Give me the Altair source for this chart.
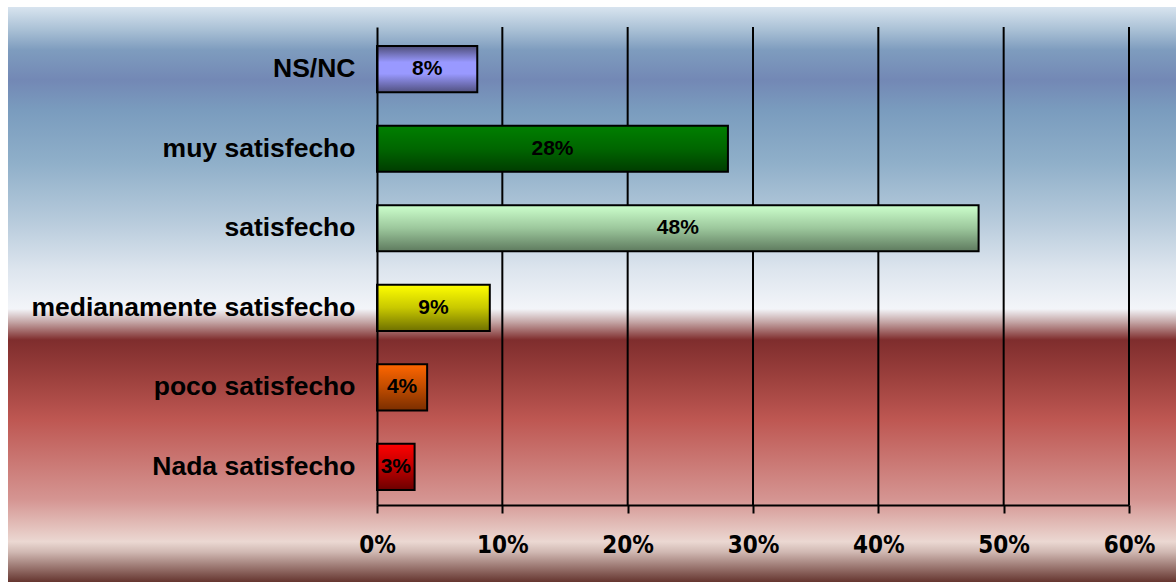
import altair as alt
import pandas as pd

# ---- data ----
categories = ["NS/NC", "muy satisfecho", "satisfecho",
              "medianamente satisfecho", "poco satisfecho", "Nada satisfecho"]
values = [8, 28, 48, 9, 4, 3]
bar_labels = ["8%", "28%", "48%", "9%", "4%", "3%"]
tick_values = [0, 10, 20, 30, 40, 50, 60]

# ---- styles ----
bar_stops = {
    "NS/NC": [("#4e4e78", 0), ("#9999ff", 0.35), ("#9999ff", 0.6), ("#515180", 1)],
    "muy satisfecho": [("#008000", 0), ("#006600", 0.5), ("#003c00", 1)],
    "satisfecho": [("#ccffcc", 0), ("#9cc79c", 0.5), ("#5e7a5e", 1)],
    "medianamente satisfecho": [("#ffff00", 0), ("#c8c800", 0.5), ("#6e7000", 1)],
    "poco satisfecho": [("#ff6600", 0), ("#c04c00", 0.5), ("#7a2e00", 1)],
    "Nada satisfecho": [("#ff0000", 0), ("#c00000", 0.5), ("#6b0000", 1)],
}
bg_stops = [
    ("#d8e4ef", 0.0), ("#a9c0d5", 0.04), ("#7e9cbe", 0.075), ("#7388b5", 0.127),
    ("#7a9cbe", 0.18), ("#8fafc9", 0.27), ("#b6cadb", 0.37), ("#dde5ee", 0.457),
    ("#f3f5f9", 0.525), ("#c4a5a5", 0.548), ("#7f2d2d", 0.579), ("#9a3f3c", 0.64),
    ("#be5752", 0.718), ("#d59592", 0.857), ("#ebd8d2", 0.93), ("#d0b8b2", 0.948),
    ("#65352f", 1.0),
]

W, H = 752, 478
PAD_L, PAD_T, PAD_R, PAD_B = 377, 27, 47, 77


def grad(stops):
    return alt.Gradient(gradient="linear", x1=0, y1=0, x2=0, y2=1,
                        stops=[alt.GradientStop(color=c, offset=o) for c, o in stops])


df = pd.DataFrame({"cat": categories, "value": values, "label": bar_labels})
grid_df = pd.DataFrame({"tick": tick_values[1:]})
bg_df = pd.DataFrame({"k": [0]})

xscale = alt.Scale(domain=[tick_values[0], tick_values[-1]], nice=False)
yscale = alt.Scale(domain=categories, paddingInner=0.42, paddingOuter=0.214, align=0.56)

xaxis = alt.Axis(values=tick_values, labelExpr="datum.value + '%'", title=None,
                 grid=False, domainColor="black", domainWidth=2,
                 tickColor="black", tickWidth=2, tickSize=8, labelFlush=False,
                 labelFont="DejaVu Sans Condensed, Liberation Sans", labelFontWeight="bold",
                 labelFontSize=24, labelColor="black", labelPadding=20, zindex=1)
yaxis = alt.Axis(title=None, ticks=False, domainColor="black", domainWidth=2,
                 labelFont="Liberation Sans", labelFontWeight="bold",
                 labelFontSize=26.5, labelColor="black", labelPadding=22,
                 labelLimit=400, zindex=1)

bg = alt.Chart(bg_df).mark_rect(fill=grad(bg_stops), strokeWidth=0).encode(
    x=alt.value(8 - PAD_L), x2=alt.value(1176 - PAD_L),
    y=alt.value(7 - PAD_T), y2=alt.value(582 - PAD_T),
)

grid = alt.Chart(grid_df).mark_rule(color="black", strokeWidth=2).encode(
    x=alt.X("tick:Q", scale=xscale, axis=xaxis),
)

bars = []
for c in categories:
    bars.append(
        alt.Chart(df).transform_filter(alt.datum.cat == c)
        .mark_bar(fill=grad(bar_stops[c]), stroke="black", strokeWidth=2, opacity=1)
        .encode(
            x=alt.X("value:Q", scale=xscale, axis=xaxis),
            y=alt.Y("cat:N", scale=yscale, axis=yaxis, sort=categories),
        )
    )

text = alt.Chart(df).transform_calculate(mid="datum.value / 2").mark_text(
    font="Liberation Sans", fontWeight="bold", fontSize=21, color="black",
    baseline="middle", align="center"
).encode(
    x=alt.X("mid:Q", scale=xscale, axis=xaxis),
    y=alt.Y("cat:N", scale=yscale, axis=yaxis, sort=categories),
    text="label:N",
)

chart = alt.layer(bg, grid, *bars, text).properties(
    width=W, height=H,
    padding={"left": PAD_L, "top": PAD_T, "right": PAD_R, "bottom": PAD_B},
    autosize=alt.AutoSizeParams(type="none"),
    background="white",
).configure_view(stroke=None)

chart.save("out.html", embed_options={"renderer": "svg", "actions": False})
